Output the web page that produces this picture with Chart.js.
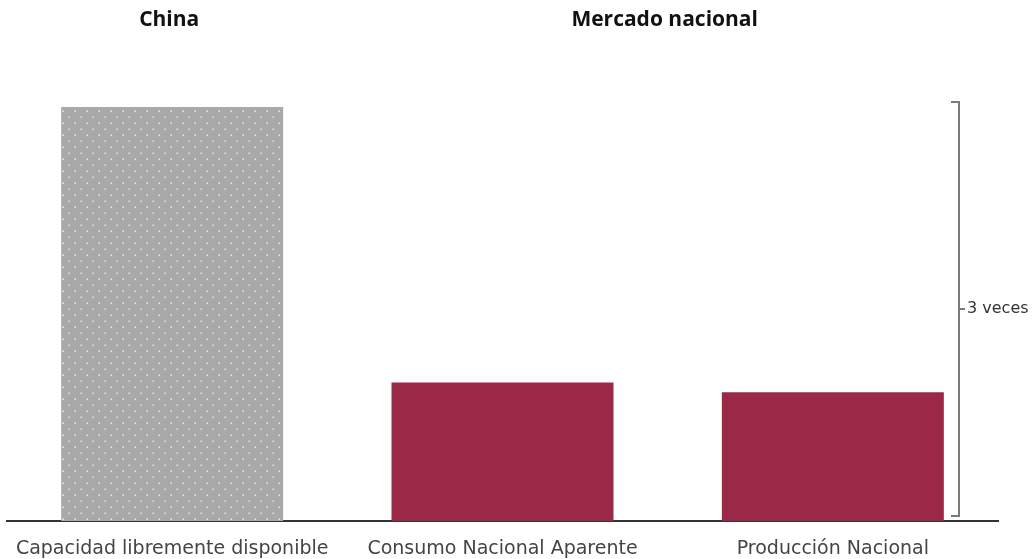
<!DOCTYPE html>
<html>
<head>
<meta charset="utf-8">
<script src="https://cdn.jsdelivr.net/npm/chart.js@4"></script>
<style>
  html, body { margin: 0; padding: 0; background: #fff; }
  #wrap { width: 1034px; height: 559px; }
</style>
</head>
<body>
<div id="wrap"><canvas id="barChart"></canvas></div>
<script>
const categories = ["Capacidad libremente disponible", "Consumo Nacional Aparente", "Producción Nacional"];
const values = [2.99, 1.0, 0.93];
const groupTitles = [
  { text: "China", from: 0, to: 0 },
  { text: "Mercado nacional", from: 1, to: 2 }
];
const bracketLabel = "3 veces";

// dotted grey fill for the China bar
function dotPattern() {
  const c = document.createElement("canvas");
  c.width = 12;
  c.height = 12;
  const g = c.getContext("2d");
  g.fillStyle = "#a9a9a9";
  g.fillRect(0, 0, 12, 12);
  g.fillStyle = "rgba(235,235,235,0.9)";
  g.fillRect(2.5, 2.5, 1.5, 1.5);
  g.fillRect(8.5, 8.5, 1.5, 1.5);
  return g.createPattern(c, "repeat");
}

const extras = {
  id: "extras",
  afterDraw(chart) {
    const ctx = chart.ctx;
    const x = chart.scales.x;
    const y = chart.scales.y;
    ctx.save();
    // group titles
    ctx.fillStyle = "#111";
    ctx.font = "bold 21px 'Open Sans', sans-serif";
    ctx.textAlign = "center";
    ctx.textBaseline = "middle";
    groupTitles.forEach(t => {
      const cx = (x.getPixelForValue(t.from) + x.getPixelForValue(t.to)) / 2 - 3;
      ctx.fillText(t.text, cx, 20);
    });
    // bracket comparing the first bar with the second
    const top = y.getPixelForValue(values[0]) - 5;
    const bottom = y.getPixelForValue(0) - 5;
    const bx = 959;
    ctx.strokeStyle = "#7a7a7a";
    ctx.lineWidth = 2;
    ctx.beginPath();
    ctx.moveTo(bx - 8, top);
    ctx.lineTo(bx, top);
    ctx.lineTo(bx, bottom);
    ctx.lineTo(bx - 8, bottom);
    const mid = (top + bottom) / 2;
    ctx.moveTo(bx, mid);
    ctx.lineTo(bx + 6, mid);
    ctx.stroke();
    ctx.fillStyle = "#333";
    ctx.font = "16px 'DejaVu Sans', sans-serif";
    ctx.textAlign = "left";
    ctx.fillText(bracketLabel, bx + 8, mid);
    ctx.restore();
  }
};

new Chart(document.getElementById("barChart"), {
  type: "bar",
  data: {
    labels: categories,
    datasets: [{
      data: values,
      backgroundColor: [dotPattern(), "#9b2847", "#9b2847"],
      barPercentage: 0.672,
      categoryPercentage: 1
    }]
  },
  options: {
    responsive: true,
    maintainAspectRatio: false,
    animation: false,
    layout: { padding: { left: 7, right: 36, top: 78, bottom: 0 } },
    plugins: { legend: { display: false }, tooltip: { enabled: false } },
    scales: {
      x: {
        grid: { display: false, drawTicks: false },
        border: { display: true, color: "#333", width: 2 },
        ticks: { color: "#444", font: { size: 19, family: "'DejaVu Sans', sans-serif" }, padding: 17, maxRotation: 0 },
        afterFit(scale) {
          scale.height = 38;
          scale.paddingLeft = 0;
          scale.paddingRight = 0;
        }
      },
      y: {
        display: false,
        min: 0,
        max: 3.2
      }
    }
  },
  plugins: [extras]
});
</script>
</body>
</html>
